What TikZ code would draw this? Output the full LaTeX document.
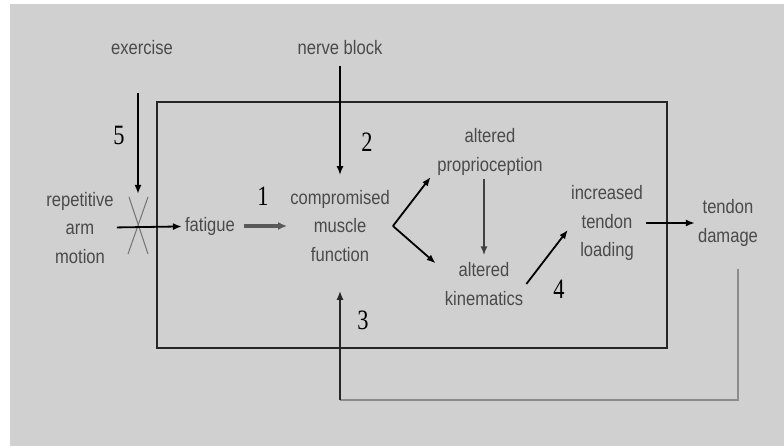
\documentclass[tikz,border=0pt]{standalone}
\usepackage{fontspec}
\newfontfamily\lblfont{Liberation Sans}[FakeStretch=0.85]
\newfontfamily\numfont{Liberation Serif}[FakeStretch=0.8]
\usetikzlibrary{arrows,arrows.meta,positioning}
\definecolor{bgrey}{HTML}{D0D0D0}
\definecolor{tgrey}{HTML}{4A4A4A}

\begin{document}
\begin{tikzpicture}[x=1pt,y=-1pt]
\tikzset{lbl/.style ={font=\lblfont\fontsize{19.5}{28.5}\selectfont, text=tgrey, align=center, inner sep=3pt},
  num/.style ={font=\numfont\fontsize{28}{28}\selectfont, text=black, inner sep=0pt},
  arr/.style ={-{Latex[length=9pt,width=7pt]}, line width=1.8pt, black},
  fbline/.style ={line width=1.5pt, black!45}}
% background
\fill[white] (0,0) rectangle (784,446);
\fill[bgrey] (10,4) rectangle (784,446);
\draw[line width=2.5pt, black!85] (157,102) rectangle (667,348);
% labels
    \node[lbl] (exercise) at (142,48) {exercise};
    \node[lbl] (nerve) at (340,48) {nerve block};
    \node[lbl] (rep) at (80,228) {repetitive\\arm\\motion};
    \node[lbl] (fatigue) at (210,226) {fatigue};
    \node[lbl] (comp) at (340,226) {compromised\\muscle\\function};
    \node[lbl] (prop) at (490,152) {altered\\proprioception};
    \node[lbl] (kin) at (484,284) {altered\\kinematics};
    \node[lbl] (inc) at (607,223) {increased\\tendon\\loading};
    \node[lbl] (dam) at (728,223) {tendon\\damage};
    \node[num] (n5) at (119,135) {5};
    \node[num] (n2) at (367,142) {2};
    \node[num] (n1) at (263,196) {1};
    \node[num] (n3) at (363,320) {3};
    \node[num] (n4) at (559,289) {4};
    \coordinate (cross) at (138,226);
    \coordinate (fbcorner) at (340,400);
% connectors
\draw[line width=1pt, black!55] (cross) ++(-9,-29) -- ++(19,57);
\draw[line width=1pt, black!55] (cross) ++(10,-29) -- ++(-20,57);
\draw[arr, shorten <=35pt, shorten >=32pt] (exercise.south -| cross) -- (cross);
\draw[arr] (rep) -- (fatigue);
\draw[-{Latex[length=9pt,width=8pt]}, line width=4pt, black!65, shorten <=6pt] (fatigue) -- (comp);
\draw[arr, shorten <=8pt, shorten >=12pt] (nerve) -- (comp);
\draw[arr, shorten >=6pt] (comp.east) -- (prop.200);
\draw[arr, shorten >=8pt] (comp.east) -- (kin.160);
\draw[-{Latex[length=9pt,width=7pt]}, line width=2.5pt, black!75, shorten >=4pt] (prop.south -| kin) -- (kin.north);
\draw[arr] (kin.east) -- (inc.190);
\draw[arr] (inc) -- (dam);
\draw[fbline] ([xshift=10pt,yshift=-19pt]dam.south) |- (fbcorner);
\draw[arr, line width=1.6pt, black!85, shorten >=26pt] (fbcorner) -- (comp.south);
\end{tikzpicture}
\end{document}
